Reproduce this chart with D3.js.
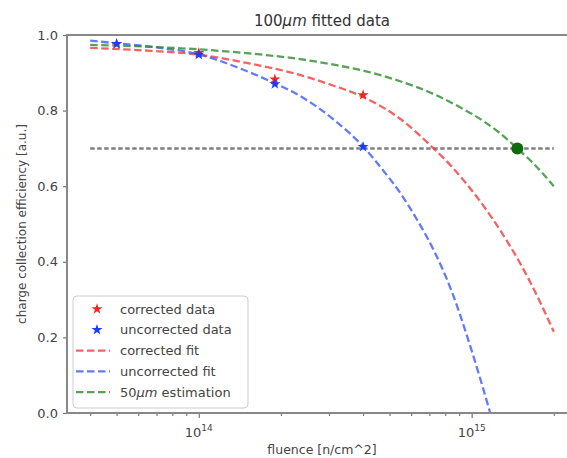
<!DOCTYPE html>
<html>
<head>
<meta charset="utf-8">
<script src="https://cdn.jsdelivr.net/npm/d3@7"></script>
<style>
body { margin: 0; background: #fff; }
text { font-family: "DejaVu Sans", sans-serif; }
</style>
</head>
<body>
<div id="chart"></div>
<script>
// measured points, fluence in n/cm^2
var correctedData = [[5e13, 0.976], [1e14, 0.953], [1.9e14, 0.883], [4e14, 0.841]];
var uncorrectedData = [[5e13, 0.977], [1e14, 0.948], [1.9e14, 0.870], [4e14, 0.704]];

// fit curves
var correctedFit = [[4e13, 0.966], [6e13, 0.960], [1e14, 0.948], [1.5e14, 0.926], [2.36e14, 0.894],
    [3e14, 0.870], [4e14, 0.836], [5.5e14, 0.777], [7.2e14, 0.702], [8.5e14, 0.650], [9.6e14, 0.605],
    [1.1e15, 0.550], [1.27e15, 0.484], [1.5e15, 0.398], [1.75e15, 0.305], [2e15, 0.215]];
var uncorrectedFit = [[4e13, 0.985], [5e13, 0.978], [7e13, 0.967], [1e14, 0.949], [1.4e14, 0.913],
    [1.9e14, 0.872], [2.36e14, 0.838], [3.1e14, 0.778], [4e14, 0.705], [4.7e14, 0.645], [5.5e14, 0.580],
    [6.3e14, 0.512], [7.2e14, 0.436], [8.5e14, 0.317], [1e15, 0.165], [1.17e15, 0.0]];
var estimationFit = [[4e13, 0.974], [1e14, 0.962], [1.6e14, 0.950], [2.36e14, 0.936], [3.2e14, 0.920],
    [4.1e14, 0.904], [5.5e14, 0.877], [7.2e14, 0.845], [9e14, 0.810], [1.1e15, 0.773],
    [1.25e15, 0.744], [1.46e15, 0.702], [1.7e15, 0.657], [2e15, 0.600]];
var estimationPoint = [[1.47e15, 0.70]];
var thresholdLine = [[4e13, 0.7], [2e15, 0.7]];

var yTicks = [0, 0.2, 0.4, 0.6, 0.8, 1.0];
var xMajor = [1e14, 1e15];
var xMinor = [4e13, 5e13, 6e13, 7e13, 8e13, 9e13, 2e14, 3e14, 4e14, 5e14, 6e14, 7e14, 8e14, 9e14, 2e15, 3e15];

var width = 567, height = 458;
var margin = {top: 35, left: 67},
    plotW = 510,
    plotH = 378;

// matplotlib style 5% margin in log space
var lo = Math.log10(4e13), hi = Math.log10(2e15), pad = (hi - lo) * 0.05;
var x = d3.scaleLog().domain([Math.pow(10, lo - pad), Math.pow(10, hi + pad)]).range([0, plotW]);
var y = d3.scaleLinear().domain([0, 1]).range([plotH, 0]);

var svg = d3.select("#chart").append("svg")
    .attr("width", width)
    .attr("height", height);

var g = svg.append("g")
    .attr("transform", "translate(" + margin.left + "," + margin.top + ")");

g.append("clipPath").attr("id", "clip")
    .append("rect").attr("width", plotW).attr("height", plotH);

var line = d3.line()
    .x(function(d) { return x(d[0]); })
    .y(function(d) { return y(d[1]); })
    .curve(d3.curveMonotoneX);

var plot = g.append("g").attr("clip-path", "url(#clip)");

plot.append("path").datum(thresholdLine)
    .attr("d", line)
    .attr("fill", "none")
    .attr("stroke", "#555")
    .attr("stroke-opacity", 0.75)
    .attr("stroke-width", 2.5)
    .attr("stroke-dasharray", "4.5,2.5");

var fits = [
    {data: correctedFit, color: "#f03c3c"},
    {data: uncorrectedFit, color: "#3c5af5"},
    {data: estimationFit, color: "#2e8b2e"}
];
fits.forEach(function(f) {
    plot.append("path").datum(f.data)
        .attr("d", line)
        .attr("fill", "none")
        .attr("stroke", f.color)
        .attr("stroke-opacity", 0.8)
        .attr("stroke-width", 2.3)
        .attr("stroke-dasharray", "7.5,3.5");
});

var star = d3.symbol().type(d3.symbolStar).size(38);

plot.selectAll(".cstar").data(correctedData).enter().append("path")
    .attr("class", "cstar")
    .attr("d", star)
    .attr("transform", function(d) { return "translate(" + x(d[0]) + "," + y(d[1]) + ")"; })
    .attr("fill", "#ff2020");

plot.selectAll(".ustar").data(uncorrectedData).enter().append("path")
    .attr("class", "ustar")
    .attr("d", star)
    .attr("transform", function(d) { return "translate(" + x(d[0]) + "," + y(d[1]) + ")"; })
    .attr("fill", "#1a3cff");

plot.selectAll(".est").data(estimationPoint).enter().append("circle")
    .attr("class", "est")
    .attr("cx", function(d) { return x(d[0]); })
    .attr("cy", function(d) { return y(d[1]); })
    .attr("r", 6)
    .attr("fill", "#0f6a0f");

// axes
var yAxis = d3.axisLeft(y).tickValues(yTicks).tickFormat(d3.format(".1f")).tickSize(4).tickPadding(5);
var gy = g.append("g").call(yAxis);

var xAxis = d3.axisBottom(x).tickValues(xMajor).tickFormat("").tickSize(5);
var gx = g.append("g").attr("transform", "translate(0," + plotH + ")").call(xAxis);
var xAxisMinor = d3.axisBottom(x).tickValues(xMinor).tickFormat("").tickSize(3);
var gxm = g.append("g").attr("transform", "translate(0," + plotH + ")").call(xAxisMinor);

[gy, gx, gxm].forEach(function(a) {
    a.select(".domain").remove();
    a.selectAll("line").attr("stroke", "#777").attr("stroke-width", 1.2);
    a.selectAll("text").attr("fill", "#444").attr("font-size", 13);
});

// 10^n labels
xMajor.forEach(function(v) {
    var t = g.append("text")
        .attr("x", x(v))
        .attr("y", plotH + 24)
        .attr("text-anchor", "middle")
        .attr("fill", "#444")
        .attr("font-size", 13);
    t.append("tspan").text("10");
    t.append("tspan").attr("dy", -6).attr("font-size", 9).text(Math.round(Math.log10(v)));
});

// spines: left, top, bottom
g.append("path")
    .attr("d", "M" + plotW + ",0H0V" + plotH + "H" + plotW)
    .attr("fill", "none")
    .attr("stroke", "#888")
    .attr("stroke-width", 2);

// title
var title = svg.append("text")
    .attr("x", margin.left + plotW / 2)
    .attr("y", 26)
    .attr("text-anchor", "middle")
    .attr("fill", "#333")
    .attr("font-size", 15);
title.append("tspan").text("100");
title.append("tspan").attr("font-style", "italic").text("μm");
title.append("tspan").text(" fitted data");

// axis labels
svg.append("text")
    .attr("x", margin.left + 255)
    .attr("y", 454)
    .attr("text-anchor", "middle")
    .attr("fill", "#444")
    .attr("font-size", 12.5)
    .text("fluence [n/cm^2]");

svg.append("text")
    .attr("transform", "translate(26," + (margin.top + plotH / 2) + ") rotate(-90)")
    .attr("text-anchor", "middle")
    .attr("fill", "#444")
    .attr("font-size", 12)
    .text("charge collection efficiency [a.u.]");

// legend
var legendItems = [
    {label: "corrected data", color: "#ff2020", kind: "star"},
    {label: "uncorrected data", color: "#1a3cff", kind: "star"},
    {label: "corrected fit", color: "#f03c3c", kind: "line"},
    {label: "uncorrected fit", color: "#3c5af5", kind: "line"},
    {label: "50μm estimation", color: "#2e8b2e", kind: "line"}
];

var legend = svg.append("g").attr("transform", "translate(73,296)");
legend.append("rect")
    .attr("width", 175)
    .attr("height", 112)
    .attr("rx", 4)
    .attr("fill", "#fff")
    .attr("fill-opacity", 0.8)
    .attr("stroke", "#ccc");

legendItems.forEach(function(d, i) {
    var yy = 13 + i * 20.8;
    if (d.kind === "star") {
        legend.append("path")
            .attr("d", star)
            .attr("transform", "translate(24," + yy + ")")
            .attr("fill", d.color);
    } else {
        legend.append("line")
            .attr("x1", 3).attr("x2", 37)
            .attr("y1", yy).attr("y2", yy)
            .attr("stroke", d.color)
            .attr("stroke-opacity", 0.8)
            .attr("stroke-width", 2.3)
            .attr("stroke-dasharray", "7.5,3.5");
    }
    var t = legend.append("text")
        .attr("x", 47)
        .attr("y", yy + 4.5)
        .attr("fill", "#444")
        .attr("font-size", 13);
    if (d.label.indexOf("μm") >= 0) {
        t.append("tspan").text("50");
        t.append("tspan").attr("font-style", "italic").text("μm");
        t.append("tspan").text(" estimation");
    } else {
        t.text(d.label);
    }
});
</script>
</body>
</html>
